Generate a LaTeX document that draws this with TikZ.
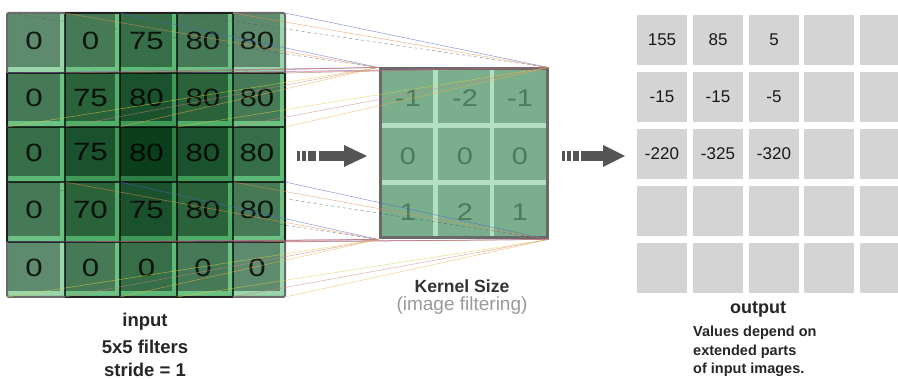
\documentclass[tikz,border=0pt]{standalone}
\usepackage{fontspec}
\setmainfont{Liberation Sans}
\definecolor{cov1}{HTML}{5E8B6D}
\definecolor{cov2}{HTML}{467A56}
\definecolor{cov3}{HTML}{366E47}
\definecolor{cov4}{HTML}{2A623A}
\definecolor{cov6}{HTML}{1B522E}
\definecolor{cov9}{HTML}{0B3E1B}
\definecolor{strip1}{HTML}{9AD6AA}
\definecolor{strip2}{HTML}{6CC283}
\definecolor{strip3}{HTML}{5DBA76}
\definecolor{strip4}{HTML}{4FAE68}
\definecolor{strip6}{HTML}{3F9A58}
\definecolor{strip9}{HTML}{2E7D45}
\definecolor{kfill}{HTML}{7AAE8C}
\definecolor{kline}{HTML}{B3E0C3}
\definecolor{knum}{HTML}{4C7A5B}
\definecolor{frame}{HTML}{6A6A6A}
\definecolor{arrowgray}{HTML}{555555}
\definecolor{outcell}{HTML}{D4D4D4}
\definecolor{w00}{HTML}{555555}
\definecolor{w01}{HTML}{E8904A}
\definecolor{w02}{HTML}{5060D0}
\definecolor{w10}{HTML}{9050C0}
\definecolor{w11}{HTML}{E07080}
\definecolor{w12}{HTML}{A06040}
\definecolor{w20}{HTML}{E0D040}
\definecolor{w21}{HTML}{D08080}
\definecolor{w22}{HTML}{F0B050}
\begin{document}
\begin{tikzpicture}[x=1pt,y=-1pt,
  innum/.style={font=\fontsize{25}{25}\selectfont, text=black, text opacity=0.82, xscale=1.25, inner sep=0pt},
  kernnum/.style={font=\fontsize{24}{24}\selectfont, text=knum, xscale=1.2, inner sep=0pt},
  outnum/.style={font=\fontsize{17}{17}\selectfont, text=black!90, inner sep=0pt},
  biglabel/.style={font=\bfseries\fontsize{18.5}{18.5}\selectfont, text=black!85, inner sep=0pt},
  sublabel/.style={font=\bfseries\fontsize{14.5}{14.5}\selectfont, text=black!85, inner sep=0pt, anchor=west},
  kernelbox/.style={draw=frame, line width=3pt, fill=kfill, minimum width=167pt, minimum height=169pt, inner sep=0pt},
  ray/.style={line width=0.5pt, opacity=0.65},
  darkedge/.style={draw=black, draw opacity=0.7, line width=2pt}
]
\clip (0,0) rectangle (898,379);
\fill[white] (0,0) rectangle (898,379);

% ---------- input image: 5x5 cells shaded by how many 3x3 windows cover them
\foreach \r in {0,...,4}{
  \foreach \c in {0,...,4}{
    \pgfmathsetmacro\xa{{7,65,120,177,233,285}[\c]}
    \pgfmathsetmacro\xb{{7,65,120,177,233,285}[\c+1]}
    \pgfmathsetmacro\ya{{13,73,127,182,242,297}[\r]}
    \pgfmathsetmacro\yb{{13,73,127,182,242,297}[\r+1]}
    \pgfmathtruncatemacro\k{{1,2,3,2,1}[\r]*{1,2,3,2,1}[\c]}
    \fill[cov\k] (\xa,\ya) rectangle (\xb,\yb);
    \fill[strip\k] (\xa,\yb-6) rectangle (\xb,\yb);
    \fill[strip\k] (\xb-5,\ya) rectangle (\xb,\yb);
  }
}
% grid points, used as window corners
\foreach \r in {0,...,5}{
  \foreach \c in {0,...,5}{
    \pgfmathsetmacro\gx{{7,65,120,177,233,285}[\c]}
    \pgfmathsetmacro\gy{{13,73,127,182,242,297}[\r]}
    \coordinate (g\r\c) at (\gx,\gy);
  }
}
% dark window outlines
\foreach \c in {1,2,3,4}{
  \draw[darkedge] (g0\c) -- (g5\c);
}
\foreach \r in {1,2,3,4}{
  \draw[darkedge] (g\r0) -- (g\r5);
}
\draw[frame, line width=2pt, rounded corners=2pt] (g00) rectangle (g55);
\draw[darkedge] (g01) -- (g04);
\draw[darkedge] (g51) -- (g54);
\draw[darkedge] (g10) -- (g40);
\draw[darkedge] (g15) -- (g45);

% input values
\foreach \r/\vals in {0/{0,0,75,80,80},1/{0,75,80,80,80},2/{0,75,80,80,80},3/{0,70,75,80,80},4/{0,0,0,0,0}}{
  \foreach \v [count=\ci from 0] in \vals {
    \pgfmathsetmacro\xa{{7,65,120,177,233,285}[\ci]}
    \pgfmathsetmacro\xb{{7,65,120,177,233,285}[\ci+1]}
    \pgfmathsetmacro\ya{{13,73,127,182,242,297}[\r]}
    \pgfmathsetmacro\yb{{13,73,127,182,242,297}[\r+1]}
    \node[innum] (n\r\ci) at ({(\xa+\xb)/2-2},{(\ya+\yb)/2-2}) {\v};
  }
}

% ---------- kernel
\node[kernelbox] (kern) at (463.5,153.5) {};
\fill[kline] (433,70.5) rectangle (438,236.5);
\fill[kline] (490,70.5) rectangle (494,236.5);
\fill[kline] (381.5,123) rectangle (545.5,128);
\fill[kline] (381.5,180) rectangle (545.5,185);
\foreach \v [count=\i from 0] in {-1,-2,-1,0,0,0,1,2,1}{
  \pgfmathtruncatemacro\kr{int(\i/3)}
  \pgfmathtruncatemacro\kc{mod(\i,3)}
  \pgfmathsetmacro\kx{{408,465,520}[\kc]}
  \pgfmathsetmacro\ky{{98,156,212}[\kr]}
  \node[kernnum] (k\kr\kc) at (\kx,\ky) {\v};
}

% ---------- rays from every 3x3 window to the kernel corners
\foreach \r in {0,1,2}{
  \foreach \c in {0,1,2}{
    \pgfmathtruncatemacro\rr{\r+3}
    \pgfmathtruncatemacro\cc{\c+3}
    \ifnum\r\c=0 \def\dsh{dashed}\else\def\dsh{solid}\fi
    \draw[ray, w\r\c, \dsh] (g\r\c) -- (kern.north west);
    \draw[ray, w\r\c, \dsh] (g\r\cc) -- (kern.north east);
    \draw[ray, w\r\c, \dsh] (g\rr\c) -- (kern.south west);
    \draw[ray, w\r\c, \dsh] (g\rr\cc) -- (kern.south east);
  }
}

% ---------- block arrows
\fill[arrowgray] (297,151) rectangle (300,161);
\fill[arrowgray] (302,151) rectangle (306,161);
\fill[arrowgray] (308,151) rectangle (316,161);
\fill[arrowgray] (319,151) rectangle (345,161);
\fill[arrowgray] (344,145) -- (367,156) -- (344,167) -- cycle;

\fill[arrowgray] (562,151) rectangle (565,161);
\fill[arrowgray] (567,151) rectangle (571,161);
\fill[arrowgray] (573,151) rectangle (579,161);
\fill[arrowgray] (581,151) rectangle (604,161);
\fill[arrowgray] (603,145) -- (625,156) -- (603,167) -- cycle;

% ---------- output feature map
\foreach \r in {0,...,4}{
  \foreach \c in {0,...,4}{
    \pgfmathsetmacro\ox{{637,693,749,804,860}[\c]}
    \pgfmathsetmacro\oy{{15,72,129,186,243}[\r]}
    \fill[outcell] (\ox,\oy) rectangle ++(50,50);
  }
}
\foreach \r/\vals in {0/{155,85,5},1/{-15,-15,-5},2/{-220,-325,-320}}{
  \foreach \v [count=\ci from 0] in \vals {
    \pgfmathsetmacro\ox{{637,693,749}[\ci]}
    \pgfmathsetmacro\oy{{15,72,129}[\r]}
    \node[outnum] (o\r\ci) at (\ox+25,\oy+25) {\v};
  }
}

% ---------- captions
\node[biglabel] (inlab) at (145,322) {input};
\node[biglabel] (infilt) at (145,347) {5x5 filters};
\node[biglabel] (instride) at (145,370) {stride = 1};
\node[font=\bfseries\fontsize{17.6}{17.6}\selectfont, text=black!80, inner sep=0pt] (klab) at (462,286) {Kernel Size};
\node[font=\fontsize{19}{19}\selectfont, text=black!40, inner sep=0pt] (ksub) at (462,306) {(image filtering)};
\node[biglabel, font=\bfseries\fontsize{18}{18}\selectfont] (outlab) at (758,309) {output};
\node[sublabel] (out1) at (693,333) {Values depend on};
\node[sublabel] (out2) at (693,352) {extended parts};
\node[sublabel] (out3) at (693,370) {of input images.};
\end{tikzpicture}
\end{document}
